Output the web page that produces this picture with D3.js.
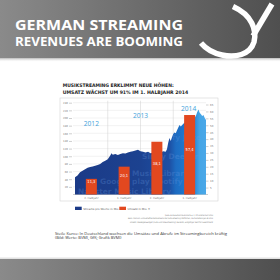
<!DOCTYPE html>
<html>
<head>
<meta charset="utf-8">
<script src="https://cdn.jsdelivr.net/npm/d3@7"></script>
<style>
  body { margin: 0; background: #fff; }
  svg { display: block; }
</style>
</head>
<body>
<div id="chart"></div>
<script>
// half-year periods and revenue (Mio. €)
let periods = ["2. Halbjahr 2012", "1. Halbjahr 2013", "2. Halbjahr 2013", "1. Halbjahr 2014"];
let periodLabels = ["2. Halbjahr", "1. Halbjahr", "2. Halbjahr", "1. Halbjahr"];
let revenue = [11.3, 20.1, 38.1, 57.4];
let revenueLabels = ["11,3", "20,1", "38,1", "57,4"];

// streams per week in Mio., week index since start of 2nd half 2012
let streamWeeks = [0, 2, 4, 6, 8, 10, 12, 14, 16, 18, 20, 22, 24, 26, 28, 29, 30, 32, 34, 36, 38, 40, 42, 44, 46, 48, 50, 52,
    54, 56, 58, 60, 62, 64, 66, 68, 70, 72, 73, 74, 75, 76, 77, 78, 79, 80, 81, 82, 83, 84, 86, 88, 90, 92, 94, 95, 96, 97,
    98, 99, 100, 101, 102, 103, 104];
let streams = [45, 50, 58, 62, 66, 70, 72, 73, 75, 77, 80, 85, 88, 92, 102, 108, 104, 106, 103, 106, 108, 107, 110, 112,
    113, 115, 117, 113, 112, 110, 112, 108, 110, 109, 112, 110, 113, 112, 118, 135, 148, 140, 150, 158, 162, 160, 168, 175,
    182, 178, 185, 190, 188, 193, 196, 200, 206, 215, 222, 214, 210, 205, 208, 200, 195];

let leftTicks = [20, 40, 60, 80, 100, 120, 140, 160, 180, 200, 220, 240];
let rightTicks = [5, 10, 15, 20, 25, 30, 35, 40, 45, 50, 55, 60, 65];
let years = ["2012", "2013", "2014"];

let width = 280, height = 280;
let plot = {left: 75, right: 206, top: 102.7, bottom: 194.5};

let svg = d3.select("#chart").append("svg")
    .attr("width", width)
    .attr("height", height);

let defs = svg.append("defs");

let bannerGrad = defs.append("linearGradient").attr("id", "banner");
bannerGrad.append("stop").attr("offset", 0).attr("stop-color", "#8a8a8a");
bannerGrad.append("stop").attr("offset", 1).attr("stop-color", "#4f4f4f");

let shadowGrad = defs.append("linearGradient").attr("id", "shadow")
    .attr("x1", 0).attr("x2", 0).attr("y1", 0).attr("y2", 1);
shadowGrad.append("stop").attr("offset", 0).attr("stop-color", "#999").attr("stop-opacity", 0.7);
shadowGrad.append("stop").attr("offset", 1).attr("stop-color", "#fff").attr("stop-opacity", 0);

let areaGrad = defs.append("linearGradient").attr("id", "areaGrad")
    .attr("gradientUnits", "userSpaceOnUse")
    .attr("x1", plot.left).attr("x2", plot.right).attr("y1", 0).attr("y2", 0);
[[0, "#1b3a87"], [0.5, "#1c4290"], [0.72, "#1d4fa3"], [0.77, "#1d6cc2"], [0.9, "#2081d3"], [0.95, "#44a5e6"], [1, "#4aa8e8"]]
    .forEach(s => areaGrad.append("stop").attr("offset", s[0]).attr("stop-color", s[1]));

// header banner
svg.append("rect").attr("x", 0).attr("y", 0).attr("width", width).attr("height", 58).attr("fill", "url(#banner)");
svg.append("rect").attr("x", 0).attr("y", 58).attr("width", width).attr("height", 4).attr("fill", "url(#shadow)");

svg.append("text")
    .attr("x", 15).attr("y", 29.5)
    .attr("textLength", 168).attr("lengthAdjust", "spacingAndGlyphs")
    .style("font-family", "Open Sans").style("font-weight", "bold").style("font-size", "15px")
    .attr("fill", "#fff")
    .text("GERMAN STREAMING");
svg.append("text")
    .attr("x", 15).attr("y", 45.8)
    .attr("textLength", 168).attr("lengthAdjust", "spacingAndGlyphs")
    .style("font-family", "Open Sans").style("font-weight", "bold").style("font-size", "12.5px")
    .attr("fill", "#fff")
    .text("REVENUES ARE BOOMING");

// logo
svg.append("path")
    .attr("d", "M233,6.5 C252,15 257,30 254,42 C250,55 235,58 222,55 C213,53 206,49 201,43")
    .attr("fill", "none").attr("stroke", "#fff").attr("stroke-width", 5.5);
svg.append("path")
    .attr("d", "M272,4 L253,36")
    .attr("fill", "none").attr("stroke", "#fff").attr("stroke-width", 5.5);

// bottom band
svg.append("rect").attr("x", 0).attr("y", 257.5).attr("width", width).attr("height", 1.5).attr("fill", "#e2e2e2");
svg.append("rect").attr("x", 0).attr("y", 259).attr("width", width).attr("height", 21).attr("fill", "url(#banner)");

// chart title
let titleStyle = sel => sel
    .style("font-family", "DejaVu Sans Condensed").style("font-weight", "bold").style("font-size", "4.8px")
    .attr("fill", "#222").attr("lengthAdjust", "spacingAndGlyphs");
svg.append("text").attr("x", 62.7).attr("y", 86.7).attr("textLength", 111)
    .call(titleStyle).text("MUSIKSTREAMING ERKLIMMT NEUE HÖHEN:");
svg.append("text").attr("x", 62.7).attr("y", 94.3).attr("textLength", 125.5)
    .call(titleStyle).text("UMSATZ WÄCHST UM 91% IM 1. HALBJAHR 2014");

// chart frame
svg.append("rect").attr("x", 60).attr("y", 98).attr("width", 158).attr("height", 103)
    .attr("fill", "none").attr("stroke", "#d4d4d4").attr("stroke-width", 0.6);

// scales
let xWeek = d3.scaleLinear().domain([0, 104]).range([plot.left, plot.right]);
let xBand = d3.scaleBand().domain(periods).range([plot.left, plot.right]).paddingInner(0.664).paddingOuter(0.332);
let xPeriod = d3.scaleBand().domain(periods).range([plot.left, plot.right]);
let yLeft = d3.scaleLinear().domain([0, 240]).range([plot.bottom, plot.top]);
let yRight = d3.scaleLinear().domain([0, 66.3]).range([plot.bottom, plot.top]);

// grid
svg.append("g").selectAll("line").data(leftTicks).enter().append("line")
    .attr("x1", plot.left - 2).attr("x2", plot.right)
    .attr("y1", d => yLeft(d)).attr("y2", d => yLeft(d))
    .attr("stroke", "#dedede").attr("stroke-width", 0.4);
svg.append("g").selectAll("line").data(periods.slice(1)).enter().append("line")
    .attr("x1", d => xPeriod(d)).attr("x2", d => xPeriod(d))
    .attr("y1", plot.top - 2).attr("y2", plot.bottom)
    .attr("stroke", "#cfcfcf").attr("stroke-width", 0.5);

// axes
let leftAxis = svg.append("g")
    .attr("transform", `translate(${plot.left - 3},0)`)
    .call(d3.axisLeft(yLeft).tickValues(leftTicks).tickSize(3).tickPadding(1));
let rightAxis = svg.append("g")
    .attr("transform", `translate(${plot.right},0)`)
    .call(d3.axisRight(yRight).tickValues(rightTicks).tickSize(2.5).tickPadding(1.5));
[leftAxis, rightAxis].forEach(a => {
    a.select(".domain").remove();
    a.selectAll("line").attr("stroke", "#888").attr("stroke-width", 0.4);
    a.selectAll("text").style("font-family", "DejaVu Sans").style("font-size", "2.6px").attr("fill", "#777");
});

// baseline
svg.append("line")
    .attr("x1", plot.left - 2).attr("x2", plot.right + 2)
    .attr("y1", plot.bottom).attr("y2", plot.bottom)
    .attr("stroke", "#999").attr("stroke-width", 0.5);

// streams area
let area = d3.area()
    .x((d, i) => xWeek(streamWeeks[i]))
    .y0(plot.bottom)
    .y1(d => yLeft(d));

defs.append("clipPath").attr("id", "areaClip")
    .append("path").attr("d", area(streams));

svg.append("path")
    .attr("d", area(streams))
    .attr("fill", "url(#areaGrad)");

// service names faintly printed inside the area
let watermark = svg.append("g").attr("clip-path", "url(#areaClip)")
    .style("font-family", "DejaVu Sans").style("font-weight", "bold").style("font-size", "7.5px")
    .attr("fill", "#6d9ee6").attr("fill-opacity", 0.26);
[["Spotify Juke", 150, 140], ["Simfy Deezer", 142, 158.5], ["Music Library", 132, 175.5],
    ["Google play Spotify", 100, 184], ["Napster Music Library", 78, 193.5]]
    .forEach(w => watermark.append("text").attr("x", w[1]).attr("y", w[2]).text(w[0]));

// revenue bars
svg.append("g").selectAll("rect").data(revenue).enter().append("rect")
    .attr("x", (d, i) => xBand(periods[i]))
    .attr("width", xBand.bandwidth())
    .attr("y", d => yRight(d))
    .attr("height", d => plot.bottom - yRight(d))
    .attr("fill", "#e2481f");

svg.append("g").selectAll("text").data(revenue).enter().append("text")
    .attr("x", (d, i) => xBand(periods[i]) + xBand.bandwidth() / 2)
    .attr("y", d => (yRight(d) + plot.bottom) / 2 - 3.5)
    .attr("text-anchor", "middle")
    .style("font-family", "DejaVu Sans Condensed").style("font-size", "4px")
    .attr("fill", "#fff")
    .text((d, i) => revenueLabels[i]);

// x labels
svg.append("g").selectAll("text").data(periods).enter().append("text")
    .attr("x", d => xPeriod(d) + xPeriod.bandwidth() / 2)
    .attr("y", plot.bottom + 4)
    .attr("text-anchor", "middle")
    .style("font-family", "DejaVu Sans").style("font-size", "2.6px")
    .attr("fill", "#777")
    .text((d, i) => periodLabels[i]);

// year labels
let yearPos = [
    {x: xPeriod(periods[0]) + xPeriod.bandwidth() / 2, y: 126},
    {x: xPeriod(periods[2]), y: 118},
    {x: xPeriod(periods[3]) + xPeriod.bandwidth() / 2 - 1, y: 111}
];
svg.append("g").selectAll("text").data(years).enter().append("text")
    .attr("x", (d, i) => yearPos[i].x)
    .attr("y", (d, i) => yearPos[i].y)
    .attr("text-anchor", "middle")
    .style("font-family", "Open Sans").style("font-size", "6.6px")
    .attr("fill", "#3ea2db")
    .text(d => d);

// legend
let legendData = [
    {label: "Streams pro Woche in Mio.", color: "#1b3a87", x: 75},
    {label: "Umsatz in Mio. €", color: "#e2481f", x: 119.3}
];
let legend = svg.append("g").selectAll("g").data(legendData).enter().append("g")
    .attr("transform", d => `translate(${d.x},206.7)`);
legend.append("rect").attr("width", 6.7).attr("height", 3.3).attr("fill", d => d.color);
legend.append("text").attr("x", 8.3).attr("y", 2.8)
    .style("font-family", "DejaVu Sans").style("font-size", "2.7px")
    .attr("fill", "#555")
    .text(d => d.label);

// source notes
let sources = [
    "Quelle: Bundesverband Musikindustrie e. V., GfK Entertainment GmbH",
    "Basis: Premium- und werbefinanzierte Streams der Audio-Streaming-Plattformen, Wochenlieferungen ab 2012",
    "Umsatz: Wiedergabeentgelt (Audio und Videostreaming) des BVMI, endgültiger Wert für Gesamtmarkt"
];
let sourceLen = [48, 85, 83];
svg.append("g").selectAll("text").data(sources).enter().append("text")
    .attr("x", (d, i) => 213 - sourceLen[i])
    .attr("y", (d, i) => 215.8 + i * 3.4)
    .attr("textLength", (d, i) => sourceLen[i]).attr("lengthAdjust", "spacingAndGlyphs")
    .style("font-family", "DejaVu Sans").style("font-size", "2.2px")
    .attr("fill", "#777")
    .text(d => d);

// caption
svg.append("text").attr("x", 55).attr("y", 234.5)
    .attr("textLength", 172).attr("lengthAdjust", "spacingAndGlyphs")
    .style("font-family", "Open Sans").style("font-size", "4.3px").attr("fill", "#333")
    .text("Steile Kurve: In Deutschland wachsen die Umsätze und Abrufe im Streamingbereich kräftig");
svg.append("text").attr("x", 55).attr("y", 239)
    .attr("textLength", 66.5).attr("lengthAdjust", "spacingAndGlyphs")
    .style("font-family", "Open Sans").style("font-size", "4.3px").attr("fill", "#333")
    .text("(Bild: Werte: BVMI, GfK; Grafik BVMI)");
</script>
</body>
</html>
